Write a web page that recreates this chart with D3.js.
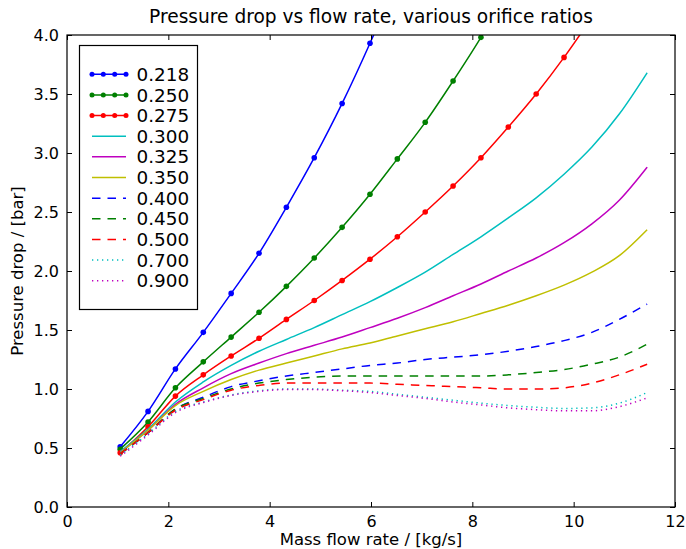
<!DOCTYPE html>
<meta charset="utf-8">
<script src="https://d3js.org/d3.v7.min.js"></script>
<style>
  body { margin: 0; background: #fff; }
  text { font-family: "DejaVu Sans", sans-serif; fill: #000; }
</style>
<svg id="chart" width="686" height="549"></svg>
<script>
// mass flow rate samples [kg/s]
var flow = [1.05, 1.60, 2.14, 2.69, 3.24, 3.79, 4.33, 4.88, 5.43, 5.98,
            6.52, 7.07, 7.62, 8.17, 8.71, 9.26, 9.81, 10.36, 10.90, 11.45];

var ratios = ["0.218", "0.250", "0.275", "0.300", "0.325", "0.350",
              "0.400", "0.450", "0.500", "0.700", "0.900"];

// pressure drop [bar] per orifice ratio
var dp218 = [0.51, 0.81, 1.17, 1.48, 1.81, 2.15, 2.54, 2.96, 3.42, 3.93, 4.47];
var dp250 = [0.49, 0.72, 1.01, 1.23, 1.44, 1.65, 1.87, 2.11, 2.37, 2.65, 2.95, 3.26, 3.61, 3.98, 4.38];
var dp275 = [0.46, 0.68, 0.94, 1.12, 1.28, 1.43, 1.59, 1.75, 1.92, 2.10, 2.29, 2.50, 2.72, 2.96, 3.22, 3.50, 3.81, 4.15];
var dp300 = [0.47, 0.66, 0.89, 1.06, 1.20, 1.32, 1.42, 1.52, 1.63, 1.74, 1.86, 1.99, 2.14, 2.29, 2.45, 2.62, 2.82, 3.05, 3.33, 3.68];
var dp325 = [0.46, 0.65, 0.87, 1.01, 1.13, 1.22, 1.30, 1.37, 1.44, 1.52, 1.60, 1.69, 1.79, 1.89, 2.00, 2.11, 2.24, 2.40, 2.60, 2.88];
var dp350 = [0.46, 0.65, 0.86, 0.98, 1.08, 1.16, 1.22, 1.28, 1.34, 1.39, 1.45, 1.51, 1.57, 1.64, 1.71, 1.79, 1.88, 1.99, 2.13, 2.35];
var dp400 = [0.45, 0.63, 0.83, 0.93, 1.02, 1.07, 1.11, 1.14, 1.17, 1.20, 1.22, 1.25, 1.27, 1.29, 1.32, 1.36, 1.41, 1.48, 1.59, 1.72];
var dp450 = [0.45, 0.63, 0.83, 0.92, 1.00, 1.05, 1.08, 1.10, 1.11, 1.11, 1.11, 1.11, 1.11, 1.11, 1.12, 1.14, 1.165, 1.21, 1.27, 1.38];
var dp500 = [0.45, 0.63, 0.82, 0.91, 0.99, 1.03, 1.05, 1.05, 1.05, 1.05, 1.04, 1.03, 1.02, 1.01, 1.00, 1.00, 1.01, 1.05, 1.12, 1.21];
var dp700 = [0.44, 0.62, 0.81, 0.89, 0.95, 0.985, 1.00, 1.00, 0.99, 0.98, 0.955, 0.93, 0.905, 0.88, 0.86, 0.845, 0.835, 0.84, 0.88, 0.97];
var dp900 = [0.43, 0.61, 0.80, 0.885, 0.945, 0.98, 0.995, 0.995, 0.985, 0.97, 0.945, 0.92, 0.89, 0.865, 0.84, 0.825, 0.815, 0.815, 0.85, 0.925];

var xTicks = [0, 2, 4, 6, 8, 10, 12];
var yTicks = [0.0, 0.5, 1.0, 1.5, 2.0, 2.5, 3.0, 3.5, 4.0];

var series = [
  { name: ratios[0],  vals: dp218, color: "#0000ff", dash: null, dots: true },
  { name: ratios[1],  vals: dp250, color: "#008000", dash: null, dots: true },
  { name: ratios[2],  vals: dp275, color: "#ff0000", dash: null, dots: true },
  { name: ratios[3],  vals: dp300, color: "#00bfbf", dash: null },
  { name: ratios[4],  vals: dp325, color: "#bf00bf", dash: null },
  { name: ratios[5],  vals: dp350, color: "#bfbf00", dash: null },
  { name: ratios[6],  vals: dp400, color: "#0000ff", dash: "8.5,7" },
  { name: ratios[7],  vals: dp450, color: "#008000", dash: "8.5,7" },
  { name: ratios[8],  vals: dp500, color: "#ff0000", dash: "8.5,7" },
  { name: ratios[9],  vals: dp700, color: "#00bfbf", dash: "1.3,3.7" },
  { name: ratios[10], vals: dp900, color: "#bf00bf", dash: "1.3,3.7" }
];

var svg = d3.select("#chart");
var plotL = 67, plotR = 675, plotT = 35, plotB = 507;

var x = d3.scaleLinear().domain([0, 12]).range([plotL, plotR]);
var y = d3.scaleLinear().domain([0, 4]).range([plotB, plotT]);

svg.append("clipPath").attr("id", "plotclip")
  .append("rect")
  .attr("x", plotL).attr("y", plotT)
  .attr("width", plotR - plotL).attr("height", plotB - plotT);

var plot = svg.append("g").attr("clip-path", "url(#plotclip)");

var line = d3.line()
  .x(function(d, i) { return x(flow[i]); })
  .y(function(d) { return y(d); })
  .curve(d3.curveMonotoneX);

series.forEach(function(s) {
  plot.append("path")
    .attr("d", line(s.vals))
    .attr("fill", "none")
    .attr("stroke", s.color)
    .attr("stroke-width", 1.5)
    .attr("stroke-dasharray", s.dash);
  if (s.dots) {
    plot.selectAll(null)
      .data(s.vals)
      .enter().append("circle")
      .attr("cx", function(d, i) { return x(flow[i]); })
      .attr("cy", function(d) { return y(d); })
      .attr("r", 2.8)
      .attr("fill", s.color);
  }
});

// axes: ticks inside, on all four sides
var tl = 5;
var axB = d3.axisBottom(x).tickValues(xTicks).tickSizeInner(-tl).tickSizeOuter(0).tickPadding(9).tickFormat(d3.format("d"));
var axT = d3.axisTop(x).tickValues(xTicks).tickSizeInner(-tl).tickSizeOuter(0).tickFormat("");
var axL = d3.axisLeft(y).tickValues(yTicks).tickSizeInner(-tl).tickSizeOuter(0).tickPadding(8).tickFormat(d3.format(".1f"));
var axR = d3.axisRight(y).tickValues(yTicks).tickSizeInner(-tl).tickSizeOuter(0).tickFormat("");

[[axB, "translate(0," + plotB + ")"], [axT, "translate(0," + plotT + ")"],
 [axL, "translate(" + plotL + ",0)"], [axR, "translate(" + plotR + ",0)"]].forEach(function(a) {
  var g = svg.append("g").attr("transform", a[1]).call(a[0]);
  g.select(".domain").remove();
  g.selectAll("line").attr("stroke", "#000");
  g.selectAll("text").style("font-size", "16px").style("font-family", "DejaVu Sans, sans-serif");
});

svg.append("rect")
  .attr("x", plotL).attr("y", plotT)
  .attr("width", plotR - plotL).attr("height", plotB - plotT)
  .attr("fill", "none").attr("stroke", "#000").attr("stroke-width", 1.2);

// titles
svg.append("text")
  .attr("x", (plotL + plotR) / 2).attr("y", 23)
  .attr("text-anchor", "middle").style("font-size", "18.6px")
  .text("Pressure drop vs flow rate, various orifice ratios");
svg.append("text")
  .attr("x", (plotL + plotR) / 2).attr("y", 545)
  .attr("text-anchor", "middle").style("font-size", "16.5px")
  .text("Mass flow rate / [kg/s]");
svg.append("text")
  .attr("transform", "translate(23," + ((plotT + plotB) / 2) + ") rotate(-90)")
  .attr("text-anchor", "middle").style("font-size", "16.5px")
  .text("Pressure drop / [bar]");

// legend
var lg = svg.append("g");
lg.append("rect")
  .attr("x", 79.5).attr("y", 45.5).attr("width", 118).attr("height", 264)
  .attr("fill", "#fff").attr("stroke", "#000").attr("stroke-width", 1.2);

var row = lg.selectAll("g.row")
  .data(series)
  .enter().append("g")
  .attr("class", "row")
  .attr("transform", function(d, i) { return "translate(0," + (74.3 + i * 20.64) + ")"; });

row.append("line")
  .attr("x1", 92).attr("x2", 126)
  .attr("stroke", function(d) { return d.color; })
  .attr("stroke-width", 1.5)
  .attr("stroke-dasharray", function(d) { return d.dash; });

row.filter(function(d) { return d.dots; })
  .selectAll("circle")
  .data(function(d) { return [92, 103.3, 114.7, 126].map(function(px) { return { px: px, c: d.color }; }); })
  .enter().append("circle")
  .attr("cx", function(d) { return d.px; })
  .attr("r", 2.5)
  .attr("fill", function(d) { return d.c; });

row.append("text")
  .attr("x", 136.5).attr("dy", "0.36em")
  .style("font-size", "18.4px")
  .text(function(d) { return d.name; });
</script>
